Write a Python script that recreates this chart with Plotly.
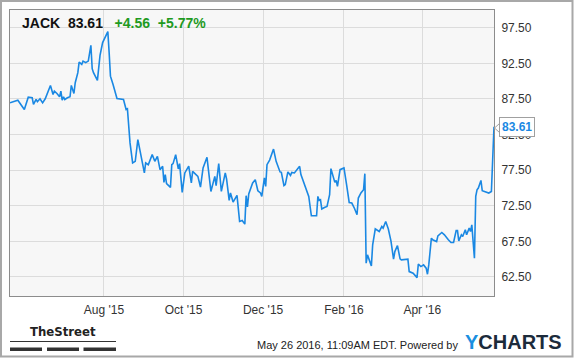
import plotly.graph_objects as go

# ---- data ----
dates = [
    "2015-05-21", "2015-05-27", "2015-06-01", "2015-06-04", "2015-06-07", "2015-06-08", "2015-06-10",
    "2015-06-11", "2015-06-13", "2015-06-15", "2015-06-17", "2015-06-21", "2015-06-23", "2015-06-24",
    "2015-06-26", "2015-06-28", "2015-06-29", "2015-06-30", "2015-07-01", "2015-07-02", "2015-07-04",
    "2015-07-06", "2015-07-07", "2015-07-09", "2015-07-10", "2015-07-12", "2015-07-13", "2015-07-15",
    "2015-07-16", "2015-07-18", "2015-07-20", "2015-07-22", "2015-07-23", "2015-07-24", "2015-07-27",
    "2015-07-29", "2015-07-31", "2015-08-04", "2015-08-05", "2015-08-06", "2015-08-08", "2015-08-11",
    "2015-08-16", "2015-08-18", "2015-08-19", "2015-08-21", "2015-08-23", "2015-08-25", "2015-08-27",
    "2015-08-29", "2015-09-01", "2015-09-02", "2015-09-04", "2015-09-07", "2015-09-09", "2015-09-11",
    "2015-09-13", "2015-09-15", "2015-09-16", "2015-09-17", "2015-09-18", "2015-09-21", "2015-09-22",
    "2015-09-23", "2015-09-25", "2015-09-27", "2015-09-28", "2015-09-30", "2015-10-02", "2015-10-05",
    "2015-10-07", "2015-10-08", "2015-10-12", "2015-10-14", "2015-10-16", "2015-10-19", "2015-10-22",
    "2015-10-25", "2015-10-26", "2015-10-28", "2015-10-30", "2015-11-02", "2015-11-03", "2015-11-05",
    "2015-11-06", "2015-11-08", "2015-11-11", "2015-11-13", "2015-11-15", "2015-11-17", "2015-11-18",
    "2015-11-19", "2015-11-20", "2015-11-23", "2015-11-25", "2015-11-27", "2015-11-29", "2015-11-30",
    "2015-12-02", "2015-12-03", "2015-12-04", "2015-12-06", "2015-12-09", "2015-12-11", "2015-12-14",
    "2015-12-15", "2015-12-17", "2015-12-18", "2015-12-20", "2015-12-22", "2015-12-23", "2015-12-25",
    "2015-12-29", "2015-12-30", "2016-01-01", "2016-01-03", "2016-01-05", "2016-01-07", "2016-01-09",
    "2016-01-11", "2016-01-12", "2016-01-13", "2016-01-14", "2016-01-15", "2016-01-17", "2016-01-19",
    "2016-01-21", "2016-01-22", "2016-01-25", "2016-01-26", "2016-01-27", "2016-01-29", "2016-02-01",
    "2016-02-02", "2016-02-03", "2016-02-05", "2016-02-07", "2016-02-09", "2016-02-11", "2016-02-12",
    "2016-02-14", "2016-02-16", "2016-02-17", "2016-02-18", "2016-02-19", "2016-02-22", "2016-02-23",
    "2016-02-25", "2016-02-28", "2016-03-01", "2016-03-02", "2016-03-04", "2016-03-06", "2016-03-08",
    "2016-03-10", "2016-03-11", "2016-03-13", "2016-03-15", "2016-03-16", "2016-03-21", "2016-03-22",
    "2016-03-25", "2016-03-28", "2016-03-29", "2016-03-31", "2016-04-02", "2016-04-04", "2016-04-05",
    "2016-04-06", "2016-04-08", "2016-04-09", "2016-04-12", "2016-04-13", "2016-04-16", "2016-04-18",
    "2016-04-21", "2016-04-23", "2016-04-25", "2016-04-27", "2016-04-28", "2016-04-29", "2016-05-01",
    "2016-05-02", "2016-05-04", "2016-05-05", "2016-05-07", "2016-05-08", "2016-05-09", "2016-05-11",
    "2016-05-12", "2016-05-13", "2016-05-14", "2016-05-16", "2016-05-17", "2016-05-19", "2016-05-22",
    "2016-05-24", "2016-05-26",
]
prices = [
    86.96, 87.33, 86.02, 87.75, 87.67, 86.73, 87.43,
    87.11, 87.53, 86.96, 87.53, 89.40, 88.13, 88.60,
    88.27, 87.81, 88.60, 87.33, 87.81, 87.43, 87.67,
    87.81, 89.40, 88.27, 89.78, 91.19, 92.68, 92.36,
    92.82, 92.60, 92.82, 95.04, 91.75, 91.19, 90.11,
    93.63, 95.42, 96.96, 94.01, 90.71, 89.54, 87.57,
    87.43, 86.02, 86.12, 81.33, 78.51, 78.74, 81.80,
    79.92, 77.11, 78.51, 78.27, 79.68, 78.74, 79.44,
    77.57, 78.04, 75.78, 76.87, 75.60, 75.08, 78.27,
    78.42, 79.68, 77.67, 78.42, 74.37, 77.11, 78.06,
    75.70, 77.33, 76.63, 75.13, 77.81, 79.30, 74.51,
    76.63, 75.32, 78.42, 74.51, 77.11, 76.26, 73.25,
    74.29, 73.02, 73.95, 70.29, 70.43, 69.92, 73.91,
    72.32, 74.15, 75.70, 76.16, 74.61, 74.29, 73.81,
    76.40, 75.22, 78.27, 78.91, 80.46, 78.74, 77.25,
    77.20, 75.32, 75.46, 77.25, 76.77, 77.19, 77.11,
    78.04, 76.87, 75.92, 74.99, 73.81, 71.09, 71.13,
    71.09, 73.81, 73.25, 73.35, 72.04, 72.26, 72.40,
    74.05, 77.71, 75.78, 76.06, 75.22, 77.57, 77.81,
    76.16, 75.46, 72.96, 72.88, 72.15, 71.23, 73.58,
    74.29, 74.75, 77.01, 64.43, 65.60, 64.05, 67.01,
    69.26, 68.88, 69.58, 69.36, 70.29, 69.22, 67.57,
    64.99, 66.06, 66.91, 65.04, 64.89, 64.99, 63.25,
    63.02, 62.40, 64.29, 63.95, 64.19, 63.73, 62.88,
    64.19, 67.95, 67.71, 67.47, 68.27, 68.74, 68.42,
    67.71, 67.33, 67.33, 69.02, 69.02, 67.57, 68.42,
    68.18, 69.12, 68.42, 69.36, 68.88, 69.82, 65.13,
    73.81, 74.75, 74.99, 76.06, 74.61, 74.51, 74.29,
    74.51, 83.61,
]
x_tickvals = ["2015-08-01", "2015-10-01", "2015-12-01", "2016-02-01", "2016-04-01"]
x_ticktext = ["Aug '15", "Oct '15", "Dec '15", "Feb '16", "Apr '16"]
y_tickvals = [62.5, 67.5, 72.5, 77.5, 82.5, 87.5, 92.5, 97.5]
ticker = "JACK"
last_price = "83.61"
change = "+4.56"
change_pct = "+5.77%"

# ---- layout geometry ----
W, H = 575, 358
ML, MR, MT, MB = 10, 81, 10, 62
PW, PH = W - ML - MR, H - MT - MB


def px(X):
    return (X - ML) / PW


def py(Y):
    return (H - MB - Y) / PH


FONT = "Liberation Sans, Arial, sans-serif"
BLUE = "#1a88e3"

fig = go.Figure()
fig.add_trace(go.Scatter(
    x=dates, y=prices, mode="lines",
    line=dict(color=BLUE, width=1.6),
    hoverinfo="skip", showlegend=False,
))

fig.update_layout(
    width=W, height=H,
    margin=dict(l=ML, r=MR, t=MT, b=MB, pad=0),
    paper_bgcolor="white",
    plot_bgcolor="#f7f7f7",
    font=dict(family=FONT, size=12, color="#333"),
    showlegend=False,
    xaxis=dict(
        type="date",
        range=["2015-05-21", "2016-05-26"],
        tickmode="array", tickvals=x_tickvals, ticktext=x_ticktext,
        showgrid=True, gridcolor="#dcdcdc", gridwidth=1,
        showline=True, linecolor="#8c8c8c", linewidth=1, mirror=True,
        ticks="outside", ticklen=3, tickcolor="rgba(0,0,0,0)",
        tickfont=dict(size=12, color="#333"),
        zeroline=False, fixedrange=True,
    ),
    yaxis=dict(
        range=[59.82, 100.0],
        side="right",
        tickmode="array", tickvals=y_tickvals, tickformat=".2f",
        showgrid=True, gridcolor="#dcdcdc", gridwidth=1,
        showline=True, linecolor="#8c8c8c", linewidth=1, mirror=True,
        ticks="outside", ticklen=4, tickcolor="rgba(0,0,0,0)",
        tickfont=dict(size=12, color="#333"),
        zeroline=False, fixedrange=True,
    ),
)

shapes = []
# outer frame of the image
shapes.append(dict(type="rect", xref="paper", yref="paper",
                   x0=px(1), x1=px(572.5), y0=py(356.5), y1=py(1),
                   line=dict(color="#a8a8a8", width=2), fillcolor="rgba(0,0,0,0)", layer="above"))
# TheStreet logo: underline and three bars
shapes.append(dict(type="line", xref="paper", yref="paper",
                   x0=px(10), x1=px(116), y0=py(341.5), y1=py(341.5),
                   line=dict(color="#333", width=1)))
for a, b in [(10, 42), (47, 79), (83.5, 116)]:
    shapes.append(dict(type="rect", xref="paper", yref="paper",
                       x0=px(a), x1=px(b), y0=py(351), y1=py(347.5),
                       line=dict(width=0), fillcolor="#333"))
# pointer notch of the last-price label
shapes.append(dict(type="path", xref="paper", yref="paper",
                   path=(f"M {px(499.5)} {py(123.5)} L {px(494.5)} {py(128)} "
                         f"L {px(499.5)} {py(132.5)} Z"),
                   line=dict(color="#a0a0a0", width=1), fillcolor="white", layer="above"))
fig.update_layout(shapes=shapes)

ann = []
# header
ann.append(dict(
    xref="paper", yref="paper", x=px(20), y=py(23.5), xanchor="left", yanchor="middle",
    showarrow=False,
    text=(f"<b>{ticker}&nbsp;&nbsp;{last_price}&nbsp;&nbsp;&nbsp;"
          f"<span style='color:#1f9a1f'>{change}&nbsp;&nbsp;{change_pct}</span></b>"),
    font=dict(family=FONT, size=14, color="#111"),
))
# last price label
ann.append(dict(
    xref="paper", yref="y", x=px(499), y=prices[-1], xanchor="left", yanchor="middle",
    showarrow=False, text=f"<b>{last_price}</b>",
    font=dict(family=FONT, size=12, color=BLUE),
    bgcolor="white", bordercolor="#a0a0a0", borderwidth=1, borderpad=2,
))
# TheStreet text
ann.append(dict(
    xref="paper", yref="paper", x=px(63), y=py(341), xanchor="center", yanchor="bottom",
    showarrow=False, text="<b>TheStreet</b>",
    font=dict(family="DejaVu Sans Condensed, Liberation Sans Narrow, sans-serif",
              size=13, color="#222"),
))
# footer text
ann.append(dict(
    xref="paper", yref="paper", x=px(459.5), y=py(345), xanchor="right", yanchor="middle",
    showarrow=False, text="May 26 2016, 11:09AM EDT. Powered by",
    font=dict(family=FONT, size=11, color="#222"),
))
ann.append(dict(
    xref="paper", yref="paper", x=px(463), y=py(341.5), xanchor="left", yanchor="middle",
    showarrow=False,
    text="<b><span style='color:#1a8fe0'>Y</span><span style='color:#1c2b3b'>CHARTS</span></b>",
    font=dict(family=FONT, size=20, color="#1c2b3b"),
))
fig.update_layout(annotations=ann)

fig.write_html("out.html")
